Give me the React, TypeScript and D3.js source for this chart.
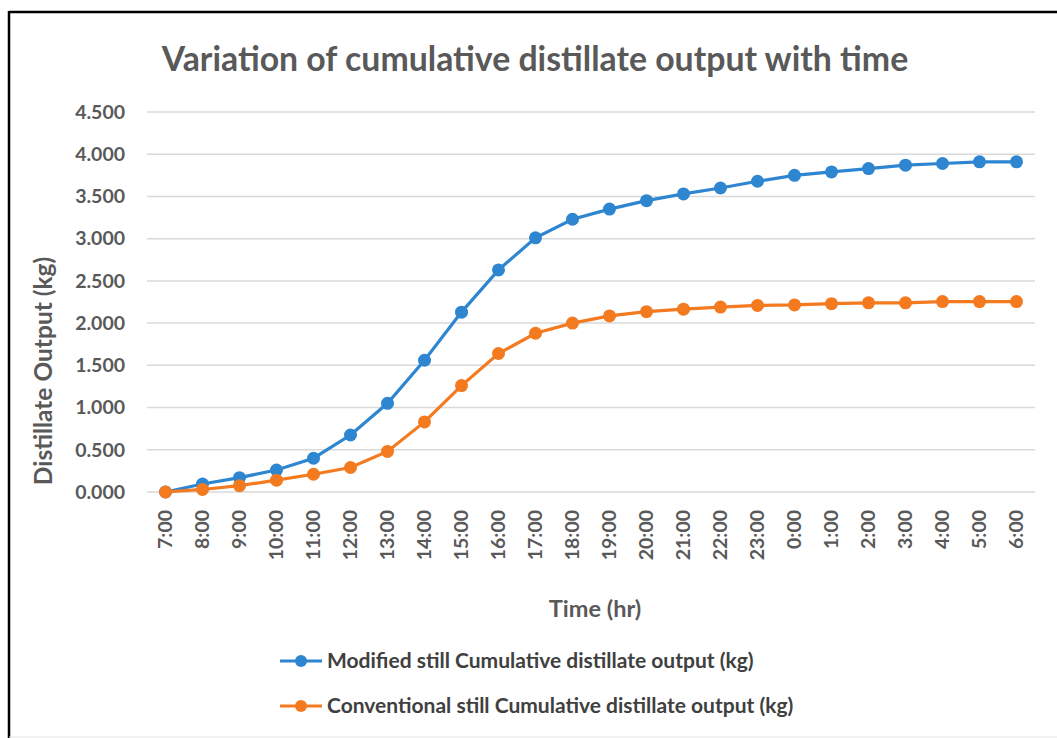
import React, { useEffect, useRef } from 'react';
import * as d3 from 'd3';

const hours = ['7:00', '8:00', '9:00', '10:00', '11:00', '12:00', '13:00', '14:00', '15:00', '16:00', '17:00', '18:00',
  '19:00', '20:00', '21:00', '22:00', '23:00', '0:00', '1:00', '2:00', '3:00', '4:00', '5:00', '6:00'];
const modified = [0, 0.095, 0.17, 0.26, 0.4, 0.675, 1.05, 1.56, 2.13, 2.63, 3.01, 3.23,
  3.35, 3.45, 3.53, 3.6, 3.68, 3.75, 3.79, 3.83, 3.87, 3.89, 3.91, 3.91];
const conventional = [0, 0.03, 0.075, 0.14, 0.21, 0.29, 0.48, 0.83, 1.26, 1.64, 1.88, 2.0,
  2.085, 2.135, 2.165, 2.19, 2.21, 2.215, 2.23, 2.24, 2.24, 2.255, 2.255, 2.255];
const yTicks = [0, 0.5, 1, 1.5, 2, 2.5, 3, 3.5, 4, 4.5];
const seriesNames = ['Modified still Cumulative distillate output (kg)', 'Conventional still Cumulative distillate output (kg)'];
const seriesColors = ['#2e86d0', '#f47a20'];

const W = 1057;
const H = 738;
const FONT = 'Lato, "Open Sans", sans-serif';

export default function App() {
  const ref = useRef<SVGSVGElement>(null);

  useEffect(() => {
    const svg = d3.select(ref.current);
    svg.selectAll('*').remove();

    // frame
    svg.append('rect').attr('width', W).attr('height', H).attr('fill', '#fff');
    svg.append('line').attr('x1', 9).attr('x2', W).attr('y1', 12).attr('y2', 12).attr('stroke', '#000').attr('stroke-width', 2.5);
    svg.append('line').attr('x1', 9).attr('x2', 9).attr('y1', 11).attr('y2', H).attr('stroke', '#000').attr('stroke-width', 2.5);
    svg.append('line').attr('x1', 9).attr('x2', W).attr('y1', H - 1).attr('y2', H - 1).attr('stroke', '#e6e6e6').attr('stroke-width', 1);

    const x = d3.scaleBand().domain(hours).range([147, 1035]);
    const y = d3.scaleLinear().domain([0, 4.5]).range([492, 112]);
    const cx = (h: string) => (x(h) as number) + x.bandwidth() / 2;

    // title
    svg.append('text')
      .attr('x', 535).attr('y', 71)
      .attr('text-anchor', 'middle')
      .attr('font-family', FONT).attr('font-weight', 700).attr('font-size', 33.8)
      .attr('fill', '#595959')
      .text('Variation of cumulative distillate output with time');

    // grid
    const grid = svg.append('g');
    yTicks.forEach(t => {
      grid.append('line')
        .attr('x1', 147).attr('x2', 1035)
        .attr('y1', y(t)).attr('y2', y(t))
        .attr('stroke', '#d9d9d9').attr('stroke-width', 1.5);
    });

    // y labels
    const yAxis = svg.append('g');
    yTicks.forEach(t => {
      yAxis.append('text')
        .attr('x', 125).attr('y', y(t))
        .attr('dy', '0.35em')
        .attr('text-anchor', 'end')
        .attr('font-family', FONT).attr('font-weight', 700).attr('font-size', 19.5)
        .attr('fill', '#595959')
        .text(d3.format('.3f')(t));
    });

    // x labels
    const xAxis = svg.append('g');
    hours.forEach(h => {
      xAxis.append('text')
        .attr('transform', `translate(${cx(h)},510) rotate(-90)`)
        .attr('dy', '0.35em')
        .attr('text-anchor', 'end')
        .attr('font-family', FONT).attr('font-weight', 700).attr('font-size', 19.5)
        .attr('fill', '#595959')
        .text(h);
    });

    // axis titles
    svg.append('text')
      .attr('transform', 'translate(52,371) rotate(-90)')
      .attr('text-anchor', 'middle')
      .attr('font-family', FONT).attr('font-weight', 700).attr('font-size', 24.5)
      .attr('fill', '#595959')
      .text('Distillate Output (kg)');
    svg.append('text')
      .attr('x', 595).attr('y', 617)
      .attr('text-anchor', 'middle')
      .attr('font-family', FONT).attr('font-weight', 700).attr('font-size', 23.5)
      .attr('fill', '#595959')
      .text('Time (hr)');

    // series
    const line = d3.line<number>()
      .x((d, i) => cx(hours[i]))
      .y(d => y(d));
    [modified, conventional].forEach((vals, k) => {
      const g = svg.append('g');
      g.append('path')
        .attr('d', line(vals))
        .attr('fill', 'none')
        .attr('stroke', seriesColors[k])
        .attr('stroke-width', 3.2);
      g.selectAll('circle')
        .data(vals)
        .enter()
        .append('circle')
        .attr('cx', (d, i) => cx(hours[i]))
        .attr('cy', d => y(d))
        .attr('r', 6.5)
        .attr('fill', seriesColors[k]);
    });

    // legend
    const legend = svg.append('g');
    seriesNames.forEach((name, k) => {
      const ly = 661 + k * 45;
      legend.append('line')
        .attr('x1', 280).attr('x2', 322).attr('y1', ly).attr('y2', ly)
        .attr('stroke', seriesColors[k]).attr('stroke-width', 3.2);
      legend.append('circle')
        .attr('cx', 301).attr('cy', ly).attr('r', 6)
        .attr('fill', seriesColors[k]);
      legend.append('text')
        .attr('x', 327).attr('y', ly)
        .attr('dy', '0.35em')
        .attr('font-family', FONT).attr('font-weight', 700).attr('font-size', 21)
        .attr('fill', '#404040')
        .text(name);
    });
  }, []);

  return (
    <svg ref={ref} width={W} height={H}
      style={{ position: 'absolute', left: 0, top: 0, display: 'block' }} />
  );
}
